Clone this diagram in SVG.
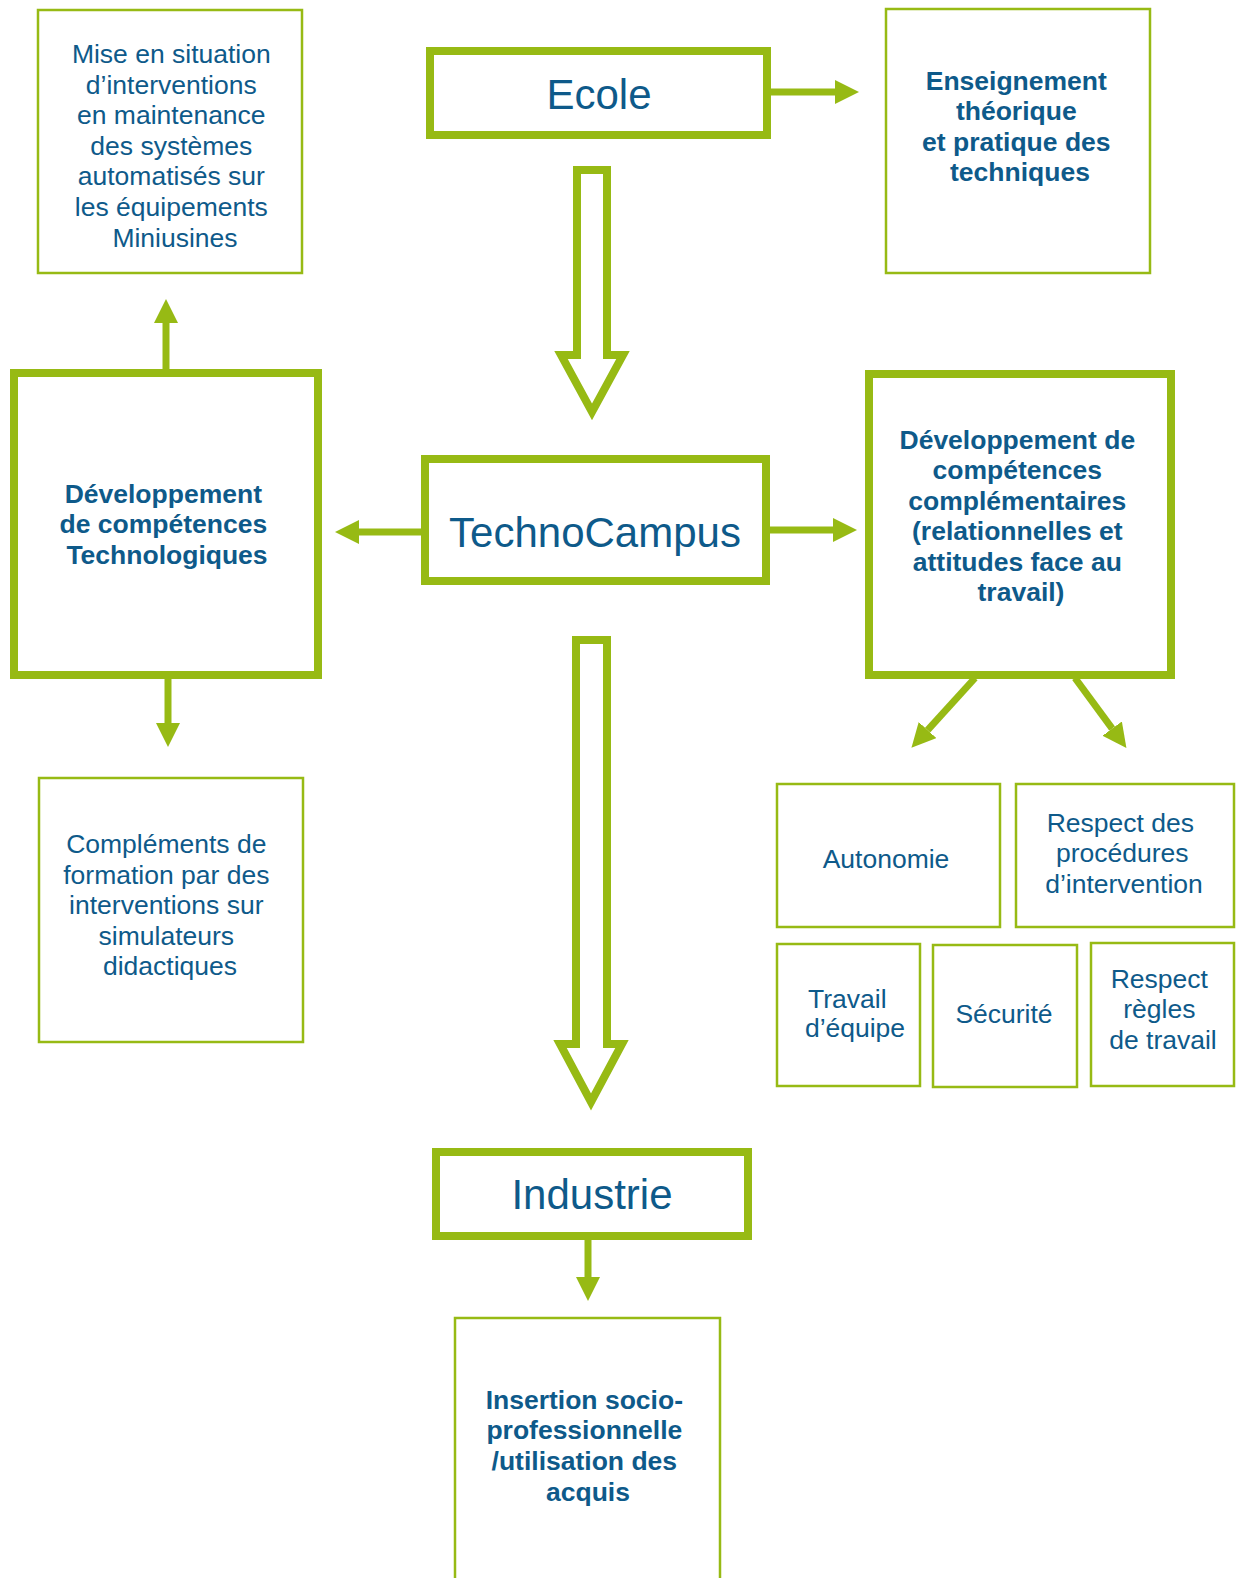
<svg xmlns="http://www.w3.org/2000/svg" width="1240" height="1578" viewBox="0 0 1240 1578">
<style>
.thick{fill:#fff;stroke:#97ba14;stroke-width:8}
.thin{fill:#fff;stroke:#97ba14;stroke-width:2.5}
.t{font-family:"Liberation Sans",Arial,sans-serif;font-size:26.5px;fill:#0e5a8a;text-anchor:middle}
.b{font-weight:bold}
.big{font-size:42px}
.ln{stroke:#97ba14;stroke-width:7;fill:none}
.hollow{fill:#fff;stroke:#97ba14;stroke-width:8;stroke-linejoin:miter;stroke-miterlimit:10}
</style>
<defs>
<marker id="ah" markerUnits="userSpaceOnUse" markerWidth="24" markerHeight="24" viewBox="0 0 24 24" refX="0" refY="12" orient="auto">
<path d="M0,0 L24,12 L0,24 z" fill="#97ba14"/>
</marker>
</defs>

<g id="connectors">
<polygon class="hollow" points="577,170 607,170 607,355 623,355 592,412 561,355 577,355"/>
<polygon class="hollow" points="576,640 607,640 607,1044 622,1044 591,1102 560,1044 576,1044"/>
<line class="ln" x1="771" y1="92" x2="835" y2="92" marker-end="url(#ah)"/>
<line class="ln" x1="421" y1="532" x2="359" y2="532" marker-end="url(#ah)"/>
<line class="ln" x1="770" y1="530" x2="833" y2="530" marker-end="url(#ah)"/>
<line class="ln" x1="166" y1="370" x2="166" y2="323" marker-end="url(#ah)"/>
<line class="ln" x1="168" y1="678" x2="168" y2="723" marker-end="url(#ah)"/>
<line class="ln" x1="588" y1="1240" x2="588" y2="1277" marker-end="url(#ah)"/>
<line class="ln" x1="975" y1="678" x2="927.6" y2="730.1" marker-end="url(#ah)"/>
<line class="ln" x1="1075" y1="678" x2="1112.2" y2="728.6" marker-end="url(#ah)"/>
</g>

<g id="ecole">
<rect class="thick" x="430" y="51" width="337" height="84"/>
<text class="t big" x="599" y="109">Ecole</text>
</g>

<g id="technocampus">
<rect class="thick" x="425" y="459" width="341" height="122"/>
<text class="t big" x="595" y="547">TechnoCampus</text>
</g>

<g id="industrie">
<rect class="thick" x="436" y="1152" width="312" height="84"/>
<text class="t big" x="592" y="1209">Industrie</text>
</g>

<g id="mise-en-situation">
<rect class="thin" x="38" y="10" width="264" height="263"/>
<text class="t" x="175">
<tspan x="175" y="63">Mise en situation</tspan>
<tspan x="175" y="93.5">d’interventions</tspan>
<tspan x="175" y="124">en maintenance</tspan>
<tspan x="175" y="155">des systèmes</tspan>
<tspan x="175" y="185">automatisés sur</tspan>
<tspan x="175" y="216">les équipements</tspan>
<tspan x="175" y="246.5">Miniusines</tspan>
</text>
</g>

<g id="enseignement">
<rect class="thin" x="886" y="9" width="264" height="264"/>
<text class="t b" x="1020">
<tspan x="1020" y="89.5">Enseignement</tspan>
<tspan x="1020" y="120">théorique</tspan>
<tspan x="1020" y="150.5">et pratique des</tspan>
<tspan x="1020" y="181">techniques</tspan>
</text>
</g>

<g id="dev-techno">
<rect class="thick" x="14" y="373" width="304" height="302"/>
<text class="t b" x="167">
<tspan x="167" y="503">Développement</tspan>
<tspan x="167" y="533">de compétences</tspan>
<tspan x="167" y="564">Technologiques</tspan>
</text>
</g>

<g id="dev-complementaires">
<rect class="thick" x="869" y="374" width="302" height="301"/>
<text class="t b" x="1021">
<tspan x="1021" y="449">Développement de</tspan>
<tspan x="1021" y="479">compétences</tspan>
<tspan x="1021" y="510">complémentaires</tspan>
<tspan x="1021" y="540">(relationnelles et</tspan>
<tspan x="1021" y="571">attitudes face au</tspan>
<tspan x="1021" y="601">travail)</tspan>
</text>
</g>

<g id="complements">
<rect class="thin" x="39" y="778" width="264" height="264"/>
<text class="t" x="170">
<tspan x="170" y="853">Compléments de</tspan>
<tspan x="170" y="883.5">formation par des</tspan>
<tspan x="170" y="914">interventions sur</tspan>
<tspan x="170" y="945">simulateurs</tspan>
<tspan x="170" y="975">didactiques</tspan>
</text>
</g>

<g id="autonomie">
<rect class="thin" x="777" y="784" width="223" height="143"/>
<text class="t" x="886" y="868">Autonomie</text>
</g>

<g id="respect-procedures">
<rect class="thin" x="1016" y="784" width="218" height="143"/>
<text class="t" x="1124">
<tspan x="1124" y="832">Respect des</tspan>
<tspan x="1126" y="862">procédures</tspan>
<tspan x="1124" y="893">d’intervention</tspan>
</text>
</g>

<g id="travail-equipe">
<rect class="thin" x="777" y="944" width="143" height="142"/>
<text class="t" x="853">
<tspan x="851" y="1008">Travail</tspan>
<tspan x="855" y="1037">d’équipe</tspan>
</text>
</g>

<g id="securite">
<rect class="thin" x="933" y="945" width="144" height="142"/>
<text class="t" x="1004" y="1023">Sécurité</text>
</g>

<g id="respect-regles">
<rect class="thin" x="1091" y="943" width="143" height="143"/>
<text class="t" x="1163">
<tspan x="1163" y="988">Respect</tspan>
<tspan x="1163" y="1018">règles</tspan>
<tspan x="1163" y="1049">de travail</tspan>
</text>
</g>

<g id="insertion">
<rect class="thin" x="455" y="1318" width="265" height="280"/>
<text class="t b" x="588">
<tspan x="588" y="1409">Insertion socio-</tspan>
<tspan x="588" y="1439">professionnelle</tspan>
<tspan x="588" y="1470">/utilisation des</tspan>
<tspan x="588" y="1501">acquis</tspan>
</text>
</g>
</svg>
